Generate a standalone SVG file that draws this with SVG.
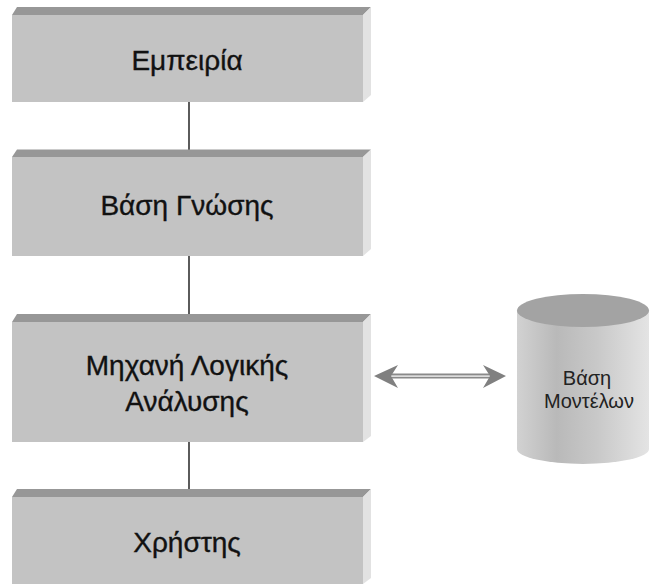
<svg xmlns="http://www.w3.org/2000/svg" width="651" height="584" viewBox="0 0 651 584">
  <defs>
    <style>
      .front { fill: #c3c3c3; }
      .top { fill: #979797; }
      .side { fill: #e2e2e2; }
      .label { font-family: "Liberation Sans", Arial, sans-serif; font-size: 28px; fill: #111111; stroke: #111111; stroke-width: 0.35; text-anchor: middle; }
      .dblabel { font-family: "Liberation Sans", Arial, sans-serif; font-size: 20px; fill: #222222; text-anchor: middle; }
      .link { stroke: #333333; stroke-width: 1.6; fill: none; }
    </style>
    <linearGradient id="cylBody" x1="0" y1="0" x2="1" y2="0">
      <stop offset="0" stop-color="#d2d2d2"/>
      <stop offset="0.3" stop-color="#b9b9b9"/>
      <stop offset="0.6" stop-color="#c8c8c8"/>
      <stop offset="1" stop-color="#e4e4e4"/>
    </linearGradient>
  </defs>

  <rect width="651" height="584" fill="#ffffff"/>

  <!-- vertical links between the stacked blocks, and the two-way arrow -->
  <g id="connectors">
    <line class="link" x1="189" y1="101" x2="189" y2="150"/>
    <line class="link" x1="189" y1="255" x2="189" y2="314"/>
    <line class="link" x1="189" y1="442" x2="189" y2="489"/>
    <g id="two-way-arrow">
      <rect x="388" y="373.5" width="104" height="5" fill="#8a8a8a"/>
      <rect x="388" y="375.5" width="104" height="1.2" fill="#ffffff"/>
      <polygon points="374,376 398,365 391,376 398,388" fill="#808080"/>
      <polygon points="506,376 483,365 490,376 483,388" fill="#808080"/>
    </g>
  </g>

  <g id="node-empeiria">
    <polygon class="top" points="12,15 17,7 371,7 363,15"/>
    <polygon class="side" points="363,15 371,7 371,95 363,102"/>
    <rect class="front" x="12" y="15" width="351" height="87"/>
    <text class="label" x="187" y="70">Εμπειρία</text>
  </g>

  <g id="node-vasi-gnosis">
    <polygon class="top" points="12,157 17,149.5 371,149.5 363,157"/>
    <polygon class="side" points="363,157 371,149.5 371,249 363,256"/>
    <rect class="front" x="12" y="157" width="351" height="99"/>
    <text class="label" x="187" y="215">Βάση Γνώσης</text>
  </g>

  <g id="node-michani">
    <polygon class="top" points="12,322 17,314 371,314 363,322"/>
    <polygon class="side" points="363,322 371,314 371,436 363,442"/>
    <rect class="front" x="12" y="322" width="351" height="120"/>
    <text class="label" x="187" y="375">Μηχανή Λογικής</text>
    <text class="label" x="187" y="411">Ανάλυσης</text>
  </g>

  <g id="node-xristis">
    <polygon class="top" points="12,497 17,489 371,489 363,497"/>
    <polygon class="side" points="363,497 371,489 371,578 363,584"/>
    <rect class="front" x="12" y="497" width="351" height="87"/>
    <text class="label" x="187" y="552">Χρήστης</text>
  </g>

  <g id="node-vasi-montelon">
    <path d="M517,311 L517,449 A66,15 0 0 0 649,449 L649,311 Z" fill="url(#cylBody)"/>
    <ellipse cx="583" cy="310.5" rx="66" ry="16.5" fill="#a3a3a3"/>
    <text class="dblabel" x="587" y="385">Βάση</text>
    <text class="dblabel" x="589" y="408">Μοντέλων</text>
  </g>
</svg>
